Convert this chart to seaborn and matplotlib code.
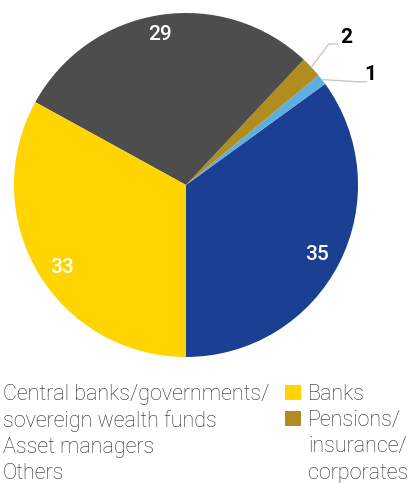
import matplotlib
matplotlib.use("Agg")
import matplotlib.pyplot as plt
import seaborn as sns
import numpy as np
from matplotlib.patches import Patch

# Data (shares in %), counterclockwise from the bottom
categories = ["Central banks/governments/\nsovereign wealth funds", "Asset managers",
              "Pensions/\ninsurance/\ncorporates", "Others", "Banks"]
values = [35, 1, 2, 29, 33]
colors = ["#1b3f93", "#5eaee2", "#b08d1e", "#4d4d4d", "#ffd400"]

sns.set_theme(style="white")
plt.rcParams["font.family"] = ["Roboto", "DejaVu Sans"]

fig = plt.figure(figsize=(4.10, 4.83), dpi=100)
ax = fig.add_axes([14 / 410, 126 / 483, 344 / 410, 344 / 483])

wedges, _ = ax.pie(values, colors=colors, startangle=-90, counterclock=True,
                   wedgeprops=dict(linewidth=0))
ax.set_xlim(-1, 1)
ax.set_ylim(-1, 1)
ax.set_aspect("equal")

# small nudges (degrees, radius) for the inside labels
nudge = {35: (-1.0, 0.865), 29: (0.7, 0.89), 33: (2.9, 0.865)}

# value labels
for w, v in zip(wedges, values):
    if v >= 5:
        da, r = nudge[v]
        mid = np.deg2rad((w.theta1 + w.theta2) / 2 + da)
        ax.text(r * np.cos(mid), r * np.sin(mid), str(v), color="white",
                fontsize=15, ha="center", va="center", fontweight="medium")
    else:
        mid = np.deg2rad((w.theta1 + w.theta2) / 2)
        ex, ey = np.cos(mid), np.sin(mid)
        if v == 2:
            elbow = (0.83, 0.82)
            end = (0.88, 0.82)
            tx = (0.93, 0.855)
        else:
            elbow = (1.0, 0.60)
            end = (1.05, 0.60)
            tx = (1.07, 0.64)
        ax.plot([ex, elbow[0], end[0]], [ey, elbow[1], end[1]], color="#c8c8c8",
                lw=1, clip_on=False)
        ax.text(tx[0], tx[1], str(v), color="black", fontsize=15,
                fontweight="bold", ha="center", va="center")

# legend: one entry per text line, handle only on the first line of a label
blank = Patch(facecolor="none", edgecolor="none")
handles, labels = [], []
for i in [0, 1, 3, 4, 2]:
    for j, line in enumerate(categories[i].split("\n")):
        handles.append(Patch(facecolor=colors[i], edgecolor="none") if j == 0 else blank)
        labels.append(line)
fig.legend(handles, labels, ncol=2, loc="upper left",
           bbox_to_anchor=(-20 / 410, 1 - 384 / 483), frameon=False,
           labelspacing=0.24, handlelength=0.74, handleheight=0.74,
           handletextpad=0.33, columnspacing=0.72, borderpad=0, borderaxespad=0,
           labelcolor="#2a2a2a", prop={"weight": "light", "size": 15.5})

fig.savefig("out.png", dpi=100)
